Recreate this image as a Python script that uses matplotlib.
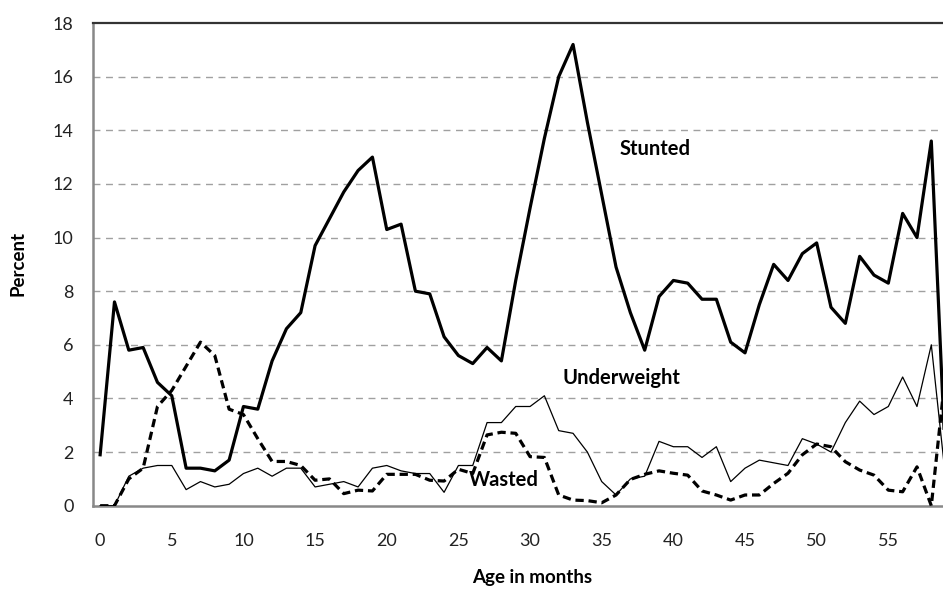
# libraries
import numpy as np
import matplotlib
matplotlib.use('Agg')
import matplotlib.pyplot as plt

plt.rcParams['font.family'] = ['Lato', 'DejaVu Sans']

# age in months
months = np.arange(0, 60)

# percent of children
stunted = [1.9, 7.6, 5.8, 5.9, 4.6, 4.1, 1.4, 1.4, 1.3, 1.7,
           3.7, 3.6, 5.4, 6.6, 7.2, 9.7, 10.7, 11.7, 12.5, 13.0,
           10.3, 10.5, 8.0, 7.9, 6.3, 5.6, 5.3, 5.9, 5.4, 8.4,
           11.1, 13.7, 16.0, 17.2, 14.3, 11.6, 8.9, 7.2, 5.8, 7.8,
           8.4, 8.3, 7.7, 7.7, 6.1, 5.7, 7.5, 9.0, 8.4, 9.4,
           9.8, 7.4, 6.8, 9.3, 8.6, 8.3, 10.9, 10.0, 13.6, 1.5]
underweight = [0.0, 0.0, 1.1, 1.4, 1.5, 1.5, 0.6, 0.9, 0.7, 0.8,
               1.2, 1.4, 1.1, 1.4, 1.4, 0.7, 0.8, 0.9, 0.7, 1.4,
               1.5, 1.3, 1.2, 1.2, 0.5, 1.5, 1.5, 3.1, 3.1, 3.7,
               3.7, 4.1, 2.8, 2.7, 2.0, 0.9, 0.4, 1.0, 1.1, 2.4,
               2.2, 2.2, 1.8, 2.2, 0.9, 1.4, 1.7, 1.6, 1.5, 2.5,
               2.3, 2.0, 3.1, 3.9, 3.4, 3.7, 4.8, 3.7, 6.0, 1.0]
wasted = [0.0, 0.0, 1.0, 1.4, 3.7, 4.3, 5.2, 6.1, 5.6, 3.6,
          3.4, 2.5, 1.65, 1.65, 1.5, 0.95, 1.0, 0.45, 0.58, 0.55,
          1.17, 1.17, 1.17, 0.95, 0.92, 1.36, 1.2, 2.64, 2.74, 2.7,
          1.83, 1.8, 0.4, 0.21, 0.19, 0.11, 0.4, 0.98, 1.17, 1.3,
          1.21, 1.14, 0.55, 0.4, 0.21, 0.4, 0.4, 0.83, 1.21, 1.9,
          2.3, 2.2, 1.64, 1.33, 1.14, 0.58, 0.52, 1.45, 0.0, 5.0]

xticks = np.arange(0, 60, 5)
yticks = np.arange(0, 19, 2)

fig = plt.figure(figsize=(9.43, 5.89), dpi=100)
ax = fig.add_axes([0.0986, 0.1414, 0.9118, 0.8195])

# dashed horizontal grid
for y in yticks[1:-1]:
    ax.axhline(y, color='#a0a0a0', lw=1.0, ls=(0, (5, 4)), zorder=1)

# the three series
ax.plot(months, stunted, color='black', lw=2.3, zorder=3)
ax.plot(months, underweight, color='black', lw=0.9, zorder=3)
ax.plot(months, wasted, color='black', lw=2.3, dashes=(2.6, 1.5), zorder=3)

# labels on the lines
ax.text(38.7, 13.3, 'Stunted', fontsize=14.5, fontweight='bold', ha='center', va='center')
ax.text(36.4, 4.76, 'Underweight', fontsize=14.5, fontweight='bold', ha='center', va='center')
ax.text(28.15, 0.96, 'Wasted', fontsize=14.5, fontweight='bold', ha='center', va='center')

ax.set_xlim(-0.5, 59.5)
ax.set_ylim(0, 18)
ax.set_xticks(xticks)
ax.set_yticks(yticks)
ax.tick_params(axis='both', length=0, labelsize=13, colors='#222222')
ax.tick_params(axis='x', pad=20)
ax.tick_params(axis='y', pad=14)

for s in ['left', 'bottom']:
    ax.spines[s].set_color('#888888')
    ax.spines[s].set_linewidth(1.8)
ax.spines['top'].set_color('#333333')
ax.spines['top'].set_linewidth(1.6)
ax.spines['right'].set_visible(False)

fig.text(18 / 943, 1 - 263 / 589, 'Percent', rotation=90, fontsize=13.5,
         fontweight='bold', ha='center', va='center')
fig.text(532 / 943, 1 - 578 / 589, 'Age in months', fontsize=13.5,
         fontweight='bold', ha='center', va='center')

fig.savefig('out.png', dpi=100)
